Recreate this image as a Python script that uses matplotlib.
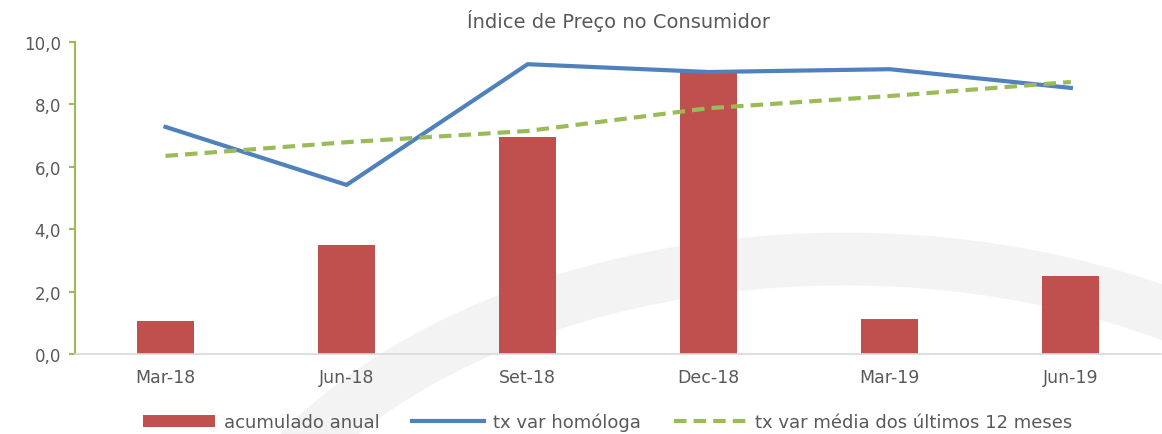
import matplotlib.pyplot as plt
from matplotlib.patches import Ellipse

categories = ["Mar-18", "Jun-18", "Set-18", "Dec-18", "Mar-19", "Jun-19"]
acumulado = [1.06, 3.49, 6.95, 9.07, 1.12, 2.50]
homologa = [7.28, 5.42, 9.29, 9.04, 9.13, 8.53]
media12 = [6.35, 6.79, 7.15, 7.88, 8.27, 8.72]

RED = "#C0504D"
BLUE = "#4F81BD"
GREEN = "#9BBB59"
TEXT = "#595959"

plt.rcParams["font.family"] = ["DejaVu Sans"]

fig = plt.figure(figsize=(11.62, 4.35), dpi=100)

# faint watermark arc in the background
bg = fig.add_axes([0, 0, 1, 1], zorder=0)
bg.set_xlim(0, 1162)
bg.set_ylim(435, 0)
bg.axis("off")
bg.add_patch(Ellipse((845, 665), 1280, 810, fill=False,
                     edgecolor="#f3f3f3", linewidth=38))

ax = fig.add_axes([0.0645, 0.184, 0.935, 0.717], zorder=1)
ax.patch.set_alpha(0)

x = range(len(categories))
bars = ax.bar(x, acumulado, width=0.315, color=RED, label="acumulado anual", zorder=2)
l1, = ax.plot(x, homologa, color=BLUE, linewidth=3, label="tx var homóloga", zorder=3)
l2, = ax.plot(x, media12, color=GREEN, linewidth=3, linestyle=(0, (3, 1.7)),
              label="tx var média dos últimos 12 meses", zorder=3)

ax.set_xlim(-0.5, 5.5)
ax.set_ylim(0, 10)
ax.set_yticks([0, 2, 4, 6, 8, 10])
ax.set_yticklabels([f"{v:.1f}".replace(".", ",") for v in range(0, 11, 2)])
ax.set_xticks(list(x))
ax.set_xticklabels(categories)

for side in ("top", "right"):
    ax.spines[side].set_visible(False)
ax.spines["left"].set_color(GREEN)
ax.spines["left"].set_linewidth(1.5)
ax.spines["bottom"].set_color("#d9d9d9")
ax.spines["bottom"].set_linewidth(1.2)
ax.tick_params(axis="y", colors=GREEN, labelcolor=TEXT, labelsize=12,
               length=4, width=1.5, pad=6)
ax.tick_params(axis="x", length=0, labelcolor=TEXT, labelsize=12.5, pad=10)

ax.set_title("Índice de Preço no Consumidor", color=TEXT, fontsize=14, pad=11)

ax.legend([bars, l1, l2], [bars.get_label(), l1.get_label(), l2.get_label()],
          loc="center", bbox_to_anchor=(0.49, -0.218), ncol=3,
          frameon=False, fontsize=13, handlelength=4.0, handleheight=0.6,
          columnspacing=1.8, labelcolor=TEXT, handletextpad=0.5)

fig.savefig("out.png", dpi=100)
